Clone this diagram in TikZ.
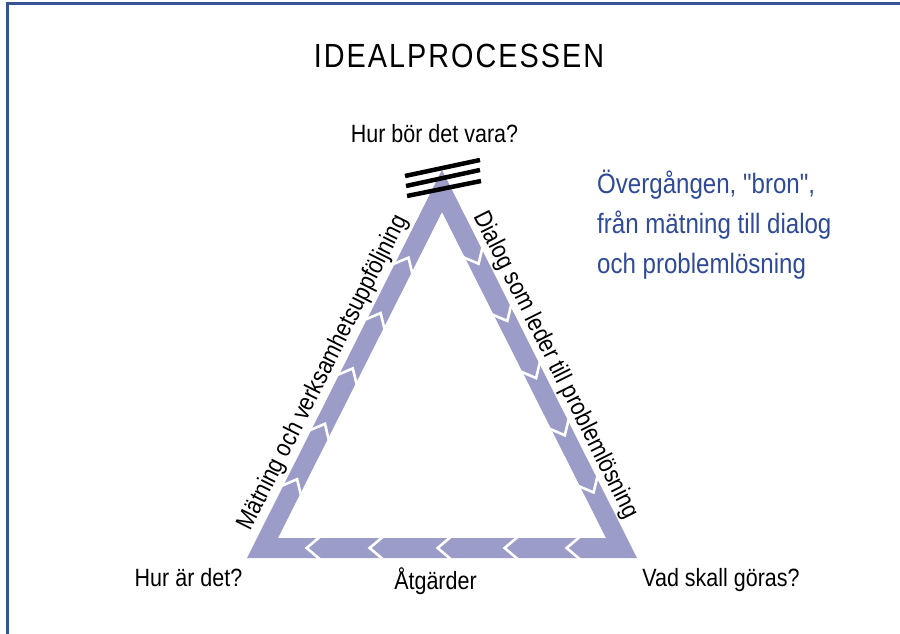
\documentclass[tikz,border=0pt]{standalone}
\usepackage{fontspec}
\setmainfont{Liberation Sans}[FakeStretch=0.86]
\newfontfamily\rubrikfont{Liberation Sans}[FakeStretch=0.86,LetterSpace=6]
\newfontfamily\brofont{Liberation Sans}[FakeStretch=0.86,Ligatures=TeXOff]
\usetikzlibrary{decorations.markings}
\definecolor{bandlila}{RGB}{155,156,200}
\definecolor{textbla}{RGB}{47,74,152}
\definecolor{ramblue}{RGB}{52,84,150}
\tikzset{
  etikett/.style={font=\fontsize{25}{30}\selectfont, inner sep=0pt},
  blatext/.style={font=\brofont\fontsize{28}{40}\selectfont, text=textbla, inner sep=0pt, anchor=base west},
  pilspets/.style={draw=white, line width=2.6pt},
  strek/.style={draw=black, line width=4.5pt},
}
\begin{document}
\begin{tikzpicture}[x=1pt,y=-1pt]
\useasboundingbox (0,0) rectangle (900,634);
\fill[white] (0,0) rectangle (900,634);
\draw[ramblue, line width=3pt] (905,3.5) -- (7.5,3.5) -- (7.5,640); % ram

% triangeln
\coordinate (oBL) at (247,558);
\coordinate (oT) at (442,170);
\coordinate (oBR) at (637,558);
\coordinate (iBL) at (278,538);
\coordinate (iT) at (442,212);
\coordinate (iBR) at (606,538);
\coordinate (cBL) at (262.5,548);
\coordinate (cT) at (442,191);
\coordinate (cBR) at (621.5,548);
\fill[bandlila, even odd rule] (oBL) -- (oT) -- (oBR) -- cycle (iBL) -- (iT) -- (iBR) -- cycle;

% pilspetsar i bandet
\foreach \d in {77,139,201,263,325,481,545,609,673,737,854,916,983,1051,1114}
  \path[postaction={decorate}, decoration={markings,
    mark=at position \d pt with {\draw[pilspets] (-13,11) -- (0,0) -- (-13,-11);}}]
    (cBL) -- (cT) -- (cBR) -- cycle;

% bron
\draw[strek] (405,176) -- (480,160);
\draw[strek] (406,186) -- (480,170);
\draw[strek] (407,196) -- (481,181);

% texter
\node[font=\rubrikfont\fontsize{33.5}{40}\selectfont, inner sep=0pt, anchor=base] (rubrik) at (459,67) {IDEALPROCESSEN};
\node[etikett, anchor=base] (bor) at (434.5,142) {Hur bör det vara?};
\node[etikett, anchor=base] (ar) at (188.5,586) {Hur är det?};
\node[etikett, anchor=base] (atgarder) at (435.5,589) {Åtgärder};
\node[etikett, anchor=base] (vad) at (721,586) {Vad skall göras?};
\path (oBL) -- (oT) node[etikett, pos=0.46, sloped, above=3pt] (matning) {Mätning och verksamhetsuppföljning};
\path (oT) -- (oBR) node[etikett, pos=0.52, sloped, above=2pt] (dialog) {Dialog som leder till problemlösning};

\node[blatext] (bro1) at (597,193) {Övergången, "bron",};
\node[blatext] (bro2) at (597,233) {från mätning till dialog};
\node[blatext] (bro3) at (597,273) {och problemlösning};
\end{tikzpicture}
\end{document}
